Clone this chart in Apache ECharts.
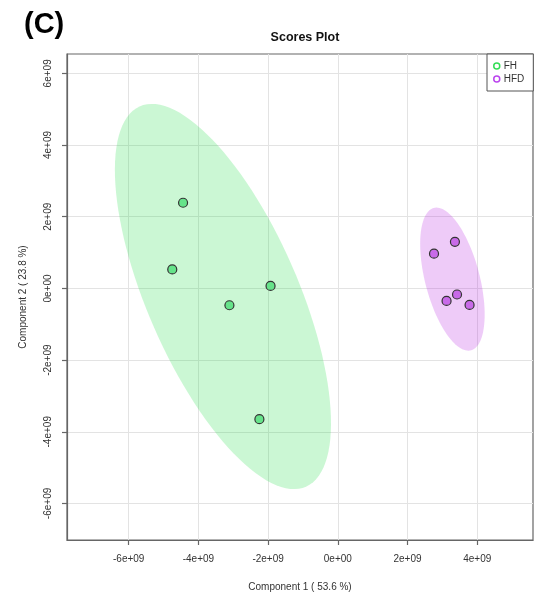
<!DOCTYPE html>
<html>
<head>
<meta charset="utf-8">
<script src="https://cdn.jsdelivr.net/npm/echarts@6/dist/echarts.min.js"></script>
<style>html,body{margin:0;padding:0;background:#fff;}#c{width:544px;height:599px;}</style>
</head>
<body>
<div id="c"></div>
<script>
// ---- data ----
const panelLabel = '(C)';
const chartTitle = 'Scores Plot';
const xName = 'Component 1 ( 53.6 %)';
const yName = 'Component 2 ( 23.8 %)';
const groups = ['FH', 'HFD'];
const fhX = [-4.44e9, -4.75e9, -1.93e9, -3.11e9, -2.25e9];
const fhY = [2.39e9, 0.53e9, 0.07e9, -0.47e9, -3.65e9];
const hfdX = [3.36e9, 2.76e9, 3.42e9, 3.12e9, 3.78e9];
const hfdY = [1.30e9, 0.97e9, -0.17e9, -0.35e9, -0.46e9];
const xTicks = [-6e9, -4e9, -2e9, 0, 2e9, 4e9];
const yTicks = [-6e9, -4e9, -2e9, 0, 2e9, 4e9, 6e9];
const xRange = [-7.77e9, 5.60e9];
const yRange = [-7.02e9, 6.54e9];
const ellipseLevelChi2 = 5.991; // qchisq(0.95, 2)

// ---- helpers ----
function sci(v) {
  if (v === 0) return '0e+00';
  const e = Math.floor(Math.log10(Math.abs(v)) + 1e-9);
  const m = Math.round(v / Math.pow(10, e) * 100) / 100;
  return m + 'e' + (e < 0 ? '-' : '+') + String(Math.abs(e)).padStart(2, '0');
}
function ellipse(xs, ys) {
  const n = xs.length;
  const mx = xs.reduce((a, b) => a + b, 0) / n;
  const my = ys.reduce((a, b) => a + b, 0) / n;
  let sxx = 0, syy = 0, sxy = 0;
  for (let i = 0; i < n; i++) {
    const dx = xs[i] - mx, dy = ys[i] - my;
    sxx += dx * dx; syy += dy * dy; sxy += dx * dy;
  }
  sxx /= (n - 1); syy /= (n - 1); sxy /= (n - 1);
  const t = Math.sqrt(ellipseLevelChi2);
  const a = Math.sqrt(sxx);
  const r = sxy / Math.sqrt(sxx * syy);
  const b = Math.sqrt(syy);
  const d = Math.acos(r);
  const pts = [];
  const N = 120;
  for (let k = 0; k < N; k++) {
    const th = 2 * Math.PI * k / N;
    pts.push([mx + t * a * Math.cos(th + d / 2), my + t * b * Math.cos(th - d / 2)]);
  }
  return { center: [mx, my], pts };
}
const ellFH = ellipse(fhX, fhY);
const ellHFD = ellipse(hfdX, hfdY);

function ellipseSeries(name, ell, fill) {
  return {
    type: 'custom', name: name, z: 1, silent: true,
    data: [ell.center],
    renderItem: function (params, api) {
      const points = ell.pts.map(p => api.coord(p));
      return { type: 'polygon', shape: { points }, style: { fill: fill, stroke: null } };
    }
  };
}

const font = '"Liberation Sans", Arial, Helvetica, sans-serif';
const axisCol = '#666';
const chart = echarts.init(document.getElementById('c'), null, { renderer: 'canvas' });
chart.setOption({
  backgroundColor: '#fff',
  animation: false,
  textStyle: { fontFamily: font },
  title: [
    { text: panelLabel, left: 19, top: 5, textStyle: { fontSize: 29, fontWeight: 'bold', color: '#000', fontFamily: font } },
    { text: chartTitle, left: 300, top: 26, textAlign: 'center', textStyle: { fontSize: 12.5, fontWeight: 'bold', color: '#111', fontFamily: font } }
  ],
  legend: {
    orient: 'vertical', left: 487, top: 54,
    padding: [7, 9, 7, 6], itemGap: 3,
    itemWidth: 6, itemHeight: 6,
    borderColor: '#555', borderWidth: 1, backgroundColor: '#fff',
    textStyle: { fontSize: 10, color: '#333', fontFamily: font, padding: [0, 0, 0, -1] },
    data: [
      { name: groups[0], icon: 'circle', itemStyle: { color: 'rgba(0,0,0,0)', borderColor: '#33dd55', borderWidth: 1.5 } },
      { name: groups[1], icon: 'circle', itemStyle: { color: 'rgba(0,0,0,0)', borderColor: '#bb44ee', borderWidth: 1.5 } }
    ]
  },
  grid: { left: 67, right: 11, top: 54, bottom: 59, show: true, borderColor: axisCol, borderWidth: 1.2, backgroundColor: 'transparent' },
  xAxis: {
    type: 'value', min: xRange[0], max: xRange[1],
    name: xName, nameLocation: 'middle', nameGap: 42,
    nameTextStyle: { fontSize: 10, color: '#333', fontFamily: font },
    axisLine: { show: true, onZero: false, lineStyle: { color: axisCol, width: 1.2 } },
    axisTick: { show: true, inside: false, length: 5, customValues: xTicks, lineStyle: { color: axisCol, width: 1.2 } },
    axisLabel: { customValues: xTicks, formatter: sci, fontSize: 10, color: '#333', margin: 14, fontFamily: font },
    splitLine: { show: true, lineStyle: { color: '#e3e3e3', width: 1 } }
  },
  yAxis: {
    type: 'value', min: yRange[0], max: yRange[1],
    name: yName, nameLocation: 'middle', nameGap: 39,
    nameTextStyle: { fontSize: 10, color: '#333', fontFamily: font },
    axisLine: { show: true, onZero: false, lineStyle: { color: axisCol, width: 1.2 } },
    axisTick: { show: true, inside: false, length: 5, customValues: yTicks, lineStyle: { color: axisCol, width: 1.2 } },
    axisLabel: { customValues: yTicks, formatter: sci, fontSize: 10, color: '#333', margin: 14, rotate: 90, fontFamily: font },
    splitLine: { show: true, lineStyle: { color: '#e3e3e3', width: 1 } }
  },
  series: [
    ellipseSeries('FH-ellipse', ellFH, 'rgba(20,220,60,0.22)'),
    ellipseSeries('HFD-ellipse', ellHFD, 'rgba(178,19,223,0.22)'),
    {
      type: 'scatter', name: groups[0], z: 3, symbolSize: 9,
      data: fhX.map((x, i) => [x, fhY[i]]),
      itemStyle: { color: '#66e38a', borderColor: '#333', borderWidth: 1.2, opacity: 1 }
    },
    {
      type: 'scatter', name: groups[1], z: 3, symbolSize: 9,
      data: hfdX.map((x, i) => [x, hfdY[i]]),
      itemStyle: { color: '#c86ae8', borderColor: '#333', borderWidth: 1.2, opacity: 1 }
    }
  ]
});
</script>
</body>
</html>
